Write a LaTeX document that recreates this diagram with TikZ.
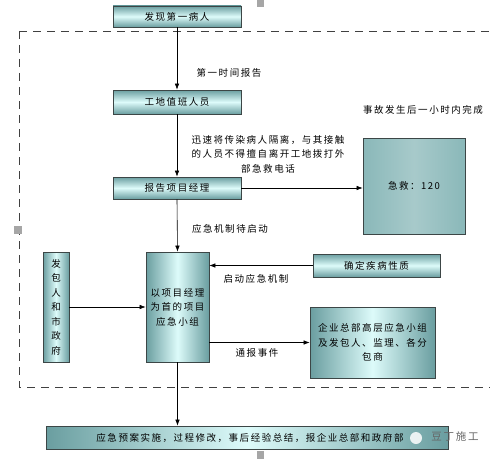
\documentclass[tikz,border=0pt]{standalone}
\usepackage{fontspec}
\newfontfamily\cjk[LetterSpace=16]{Noto Sans CJK SC}
\usetikzlibrary{arrows.meta}
\definecolor{tealD}{HTML}{6A9EA0}
\definecolor{tealL}{HTML}{DDFBFA}
\definecolor{tealM}{HTML}{8AB8B9}
\definecolor{edgeC}{HTML}{3C4646}
\tikzset{
  txt/.style={font=\cjk\fontsize{9.5}{14.5}\selectfont, align=center},
  hbox/.style={txt, draw=edgeC, line width=0.7pt, top color=tealD, bottom color=tealD, middle color=tealL, inner sep=0pt},
  vbox/.style={txt, draw=edgeC, line width=0.7pt, left color=tealD, right color=tealD, middle color=tealL, inner sep=0pt},
  arr/.style={-{Latex[length=6pt,width=4.5pt]}, line width=0.6pt, black},
  lbl/.style={txt, inner sep=0pt},
  handle/.style={fill=black!35, draw=none}
}
\begin{document}
\begin{tikzpicture}[x=1pt,y=-1pt]
\useasboundingbox (0,0) rectangle (490,460);
\fill[white] (0,0) rectangle (490,460);
% dashed frame
\begin{scope}
\clip (0,0) rectangle (490,460);
\draw[black!75, line width=0.9pt, dash pattern=on 8pt off 6pt] (19,31) -- (500,31);
\draw[black!75, line width=0.9pt, dash pattern=on 8pt off 6pt] (19,31) -- (19,387) -- (500,387);
\end{scope}
% handles
\path[handle] (257,0) rectangle (264,7);
\path[handle] (14,226) rectangle (22,234);
\path[handle] (257,451) rectangle (264,459);
% nodes
\node[hbox, minimum width=128pt, minimum height=21pt] (n1) at (177,16.5) {发现第一病人};
\node[hbox, minimum width=128pt, minimum height=24pt] (n2) at (177,102) {工地值班人员};
\node[hbox, minimum width=128pt, minimum height=22pt] (n3) at (177,188) {报告项目经理};
\node[txt, draw=edgeC, line width=0.7pt, left color=tealM, right color=tealM, middle color=tealM!75!white, inner sep=0pt, minimum width=102pt, minimum height=96pt] (n4) at (414,186) {急救：120};
\node[vbox, minimum width=63pt, minimum height=110pt] (n5) at (177.5,307) {以项目经理\\为首的项目\\应急小组};
\node[vbox, minimum width=26pt, minimum height=110pt] (n6) at (56,307) {发\\包\\人\\和\\市\\政\\府};
\node[hbox, minimum width=127pt, minimum height=23pt] (n7) at (376.5,265.5) {确定疾病性质};
\node[hbox, left color=tealD, right color=tealD, middle color=tealL, minimum width=125pt, minimum height=71pt] (n8) at (372.5,342.5) {企业总部高层应急小组\\及发包人、监理、各分\\包商};
\node[hbox, left color=tealD, right color=tealD, middle color=tealL, minimum width=402pt, minimum height=23pt] (n9) at (247,437.5) {};
\node[lbl] (t9) at (250,437.5) {应急预案实施，过程修改，事后经验总结，报企业总部和政府部};
\fill[white, opacity=0.85] (416,438) circle (6pt);
\node[lbl, text=black!60, font=\cjk\fontsize{10.5}{12}\selectfont] (wm) at (455,437) {豆丁施工};
% labels
\node[lbl] (l1) at (229,73) {第一时间报告};
\node[lbl] (l2) at (423,110) {事故发生后一小时内完成};
\node[lbl] (l3) at (268,154) {迅速将传染病人隔离，与其接触\\的人员不得擅自离开工地拨打外\\部急救电话};
\node[lbl] (l4) at (230,229) {应急机制待启动};
\node[lbl] (l5) at (256,279) {启动应急机制};
\node[lbl] (l6) at (257,353) {通报事件};
% connectors
\draw[arr] (n1.south) -- (n2.north);
\draw[arr] (n2.south) -- (n3.north);
\draw[arr] (n3.east) -- (n3.east -| n4.west);
\draw[arr] (n3.south) -- (n5.north);
\draw[arr] (n6.east) -- (n5.west);
\draw[arr] (n7.west) -- (n7.west -| n5.east);
\draw[arr] (n5.east |- n8.west) -- (n8.west);
\draw[arr] (n5.south) -- (n9.north -| n5.south);
\end{tikzpicture}
\end{document}
